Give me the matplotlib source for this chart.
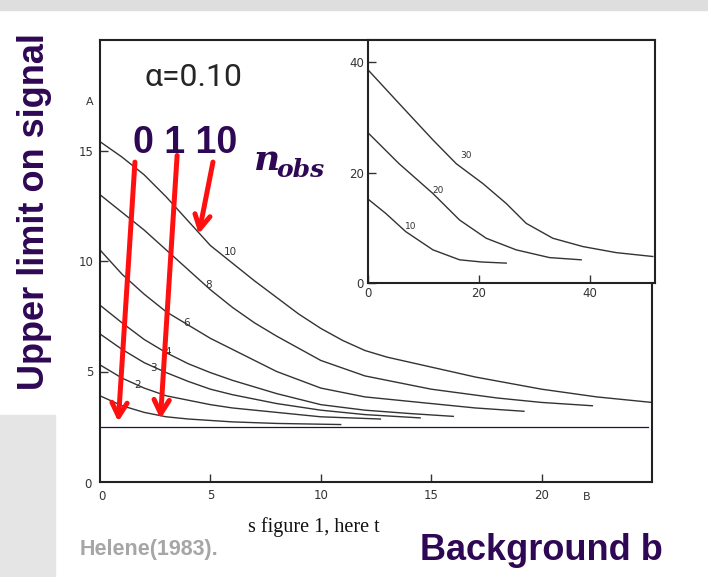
import matplotlib
matplotlib.use("Agg")
import matplotlib.pyplot as plt
from matplotlib.patches import Rectangle

# main chart: upper limit curves (alpha = 0.10)
n_main = [1, 2, 3, 4, 6, 8, 10]
b_main = [
    [0, 1, 2, 3, 4, 6, 8, 10.9],
    [0, 1, 2, 3, 4, 5, 6, 8, 10, 12.7],
    [0, 1, 2, 3, 4, 5, 6, 8, 10, 12, 14.5],
    [0, 1, 2, 3, 4, 5, 6, 8, 10, 12, 14, 16],
    [0, 1, 2, 3, 4, 5, 6, 8, 10, 12, 15, 17, 19.2],
    [0, 1, 2, 3, 4, 5, 6, 7, 8, 10, 12, 15, 18, 20, 22.3],
    [0, 1, 2, 3, 4, 5, 6, 7, 8, 9, 10, 11, 12, 13, 15, 17, 20, 22.5, 25],
]
s_main = [
    [3.9, 3.45, 3.15, 2.95, 2.85, 2.72, 2.65, 2.6],
    [5.3, 4.7, 4.25, 3.9, 3.7, 3.5, 3.35, 3.15, 2.95, 2.85],
    [6.7, 6.0, 5.4, 4.95, 4.55, 4.2, 3.95, 3.55, 3.25, 3.05, 2.9],
    [8.0, 7.2, 6.45, 5.85, 5.35, 4.95, 4.6, 4.0, 3.5, 3.25, 3.1, 2.97],
    [10.5, 9.4, 8.5, 7.7, 7.1, 6.5, 6.0, 5.0, 4.25, 3.85, 3.55, 3.35, 3.2],
    [13.0, 12.2, 11.4, 10.5, 9.6, 8.7, 7.9, 7.2, 6.6, 5.5, 4.8, 4.2, 3.8, 3.6, 3.45],
    [15.4, 14.7, 13.9, 12.9, 11.8, 10.7, 9.9, 9.1, 8.35, 7.6, 6.95, 6.4, 5.95, 5.65,
     5.2, 4.75, 4.2, 3.85, 3.6],
]
# where the small curve numbers sit (b, s)
label_main = {"10": (5.9, 10.4), "8": (4.9, 8.9), "6": (3.9, 7.2), "4": (3.05, 5.9),
              "3": (2.4, 5.15), "2": (1.7, 4.4)}
n0_limit = 2.5
n0_end = 24.8

# inset: large n
n_inset = [10, 20, 30]
b_inset = [
    [0, 3.2, 6.8, 11.7, 16.5, 20.5, 24.9],
    [0, 5.6, 11.7, 16.5, 21.3, 26.7, 32.7, 38.4],
    [0, 5.6, 11.7, 15.9, 20.7, 24.9, 28.5, 33.3, 38.7, 44.7, 51.3],
]
s_inset = [
    [15.2, 12.6, 9.3, 6.0, 4.2, 3.8, 3.6],
    [27.2, 21.6, 16.2, 11.4, 8.1, 6.0, 4.6, 4.2],
    [38.6, 32.5, 25.9, 21.6, 18.0, 14.4, 10.8, 8.1, 6.6, 5.5, 4.8],
]
label_inset = {"10": (7.7, 10.2), "20": (12.6, 16.8), "30": (17.7, 23.1)}

# red arrows: (start b, s) -> (tip b, s)
arrows = [((1.59, 14.6), (0.82, 2.6)), ((3.5, 14.9), (2.73, 2.73)),
          ((5.14, 14.6), (4.45, 11.1))]

W, H = 708, 577
purple = "#2e0854"
ink = "#333333"

fig = plt.figure(figsize=(W / 100, H / 100), dpi=100)
fig.patch.set_facecolor("white")


def fx(px):
    return px / W


def fy(py):
    return 1 - py / H


# grey slide pieces
fig.patches.append(Rectangle((0, fy(10)), 1, 10 / H, transform=fig.transFigure,
                             color="#dedede", zorder=0))
fig.patches.append(Rectangle((0, 0), fx(55), fy(415), transform=fig.transFigure,
                             color="#e5e5e5", zorder=0))

ax = fig.add_axes([fx(100), fy(482), fx(652) - fx(100), fy(40) - fy(482)])
for i, n in enumerate(n_main):
    ax.plot(b_main[i], s_main[i], color=ink, lw=1.0)
for t, (bx, sy) in label_main.items():
    ax.text(bx, sy, t, fontsize=7.5, color=ink, ha="center", va="center")
ax.plot([0, n0_end], [n0_limit, n0_limit], color=purple, lw=0.9)

ax.set_xlim(0, 25)
ax.set_ylim(0, 20)
ax.set_xticks([5, 10, 15, 20])
ax.set_yticks([5, 10, 15])
ax.tick_params(direction="in", length=6, width=1, colors=ink, labelsize=8.5, pad=5)
for sp in ax.spines.values():
    sp.set_linewidth(1.5)
    sp.set_color("#222222")
ax.text(-0.55, -0.1, "0", fontsize=8.5, color=ink, ha="center", va="center", clip_on=False)
ax.text(0.1, -0.65, "0", fontsize=8.5, color=ink, ha="center", va="center", clip_on=False)
ax.text(-0.45, 17.2, "A", fontsize=8, color=ink, ha="center", va="center", clip_on=False)
ax.text(22.05, -0.7, "B", fontsize=8, color=ink, ha="center", va="center", clip_on=False)
ax.text(2.0, 18.3, "\u03b1=0.10", fontsize=23, color="#262626", ha="left", va="center",
        family="Roboto")

for (x0, y0), (x1, y1) in arrows:
    ax.annotate("", xy=(x1, y1), xytext=(x0, y0),
                arrowprops=dict(arrowstyle="->,head_length=1.0,head_width=0.55",
                                color="#ff1010", lw=3.6))

# inset
ins = fig.add_axes([fx(368), fy(283), fx(655) - fx(368), fy(40) - fy(283)])
for i, n in enumerate(n_inset):
    ins.plot(b_inset[i], s_inset[i], color=ink, lw=1.0)
for t, (bx, sy) in label_inset.items():
    ins.text(bx, sy, t, fontsize=6.5, color=ink, ha="center", va="center")
ins.set_xlim(0, 51.7)
ins.set_ylim(0, 44)
ins.set_xticks([0, 20, 40])
ins.set_yticks([0, 20, 40])
ins.tick_params(direction="in", length=6, width=1, colors=ink, labelsize=8.5, pad=3)
for sp in ins.spines.values():
    sp.set_linewidth(1.5)
    sp.set_color("#222222")

# slide text
fig.text(fx(35), fy(212), "Upper limit on signal", rotation=90, fontsize=26,
         weight="bold", color=purple, ha="center", va="center", family="Liberation Sans")
fig.text(fx(133), fy(143), "0 1 10", fontsize=27, weight="bold", color=purple,
         ha="left", va="center", family="Liberation Sans")
fig.text(fx(254), fy(160), "n", fontsize=26, weight="bold", style="italic", color=purple,
         ha="left", va="center", family="DejaVu Serif")
fig.text(fx(276), fy(170), "obs", fontsize=18, weight="bold", style="italic", color=purple,
         ha="left", va="center", family="DejaVu Serif")
fig.text(fx(420), fy(551), "Background b", fontsize=26, weight="bold", color=purple,
         ha="left", va="center", family="Liberation Sans")
fig.text(fx(80), fy(549), "Helene(1983).", fontsize=15.5, weight="bold", color="#a6a6a6",
         ha="left", va="center", family="Liberation Sans")
fig.text(fx(248), fy(527), "s figure 1, here t", fontsize=14.5, color="#111111",
         ha="left", va="center", family="Liberation Serif")

fig.savefig("out.png", dpi=100)
